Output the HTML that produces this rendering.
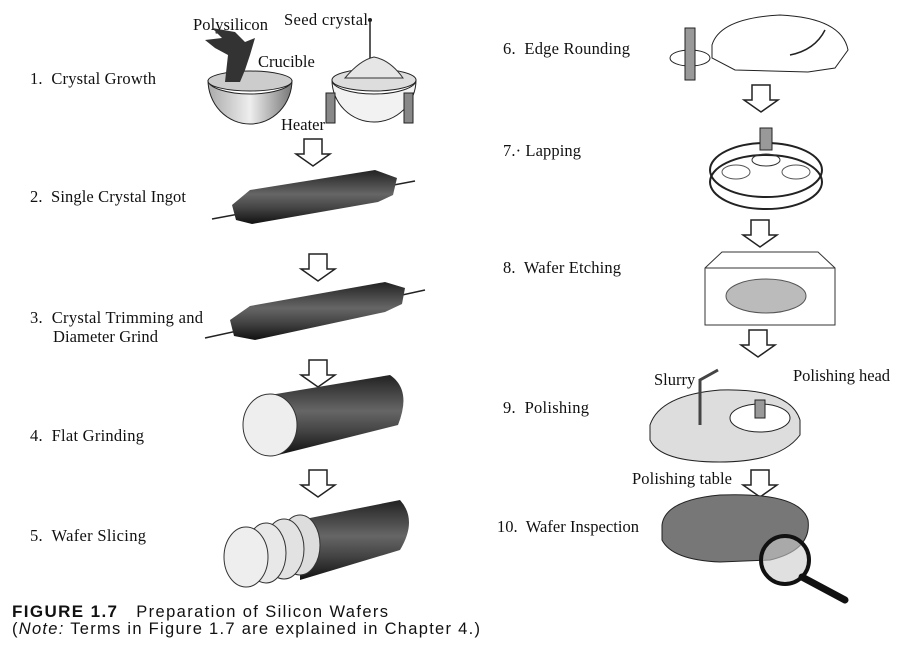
<!DOCTYPE html>
<html><head><meta charset="utf-8"><style>
html,body{margin:0;padding:0;background:#fff}
svg{display:block}
.t{font-family:"Liberation Serif",serif;font-size:16.5px;fill:#111}
.s{font-family:"Liberation Sans",sans-serif;font-size:16.5px;fill:#111}
</style></head><body>
<svg width="906" height="648" viewBox="0 0 906 648" xmlns="http://www.w3.org/2000/svg">
<defs>
<linearGradient id="cyl" x1="0" y1="0" x2="0" y2="1">
<stop offset="0" stop-color="#222"/><stop offset="0.45" stop-color="#666"/><stop offset="0.7" stop-color="#444"/><stop offset="1" stop-color="#111"/></linearGradient>
<linearGradient id="bowl" x1="0" y1="0" x2="1" y2="0">
<stop offset="0" stop-color="#aaa"/><stop offset="0.5" stop-color="#eee"/><stop offset="1" stop-color="#777"/></linearGradient>
<g id="arr"><path d="M-9,0 H9 V15 H17 L0,27 L-17,15 H-9 Z" fill="#fff" stroke="#222" stroke-width="1.5"/></g>
</defs>

<text class="t" x="30" y="84" textLength="126">1.&#160; Crystal Growth</text>
<text class="t" x="30" y="202" textLength="156">2.&#160; Single Crystal Ingot</text>
<text class="t" x="30" y="323" textLength="173">3.&#160; Crystal Trimming and</text>
<text class="t" x="53" y="342" textLength="105">Diameter Grind</text>
<text class="t" x="30" y="441" textLength="114">4.&#160; Flat Grinding</text>
<text class="t" x="30" y="541" textLength="116">5.&#160; Wafer Slicing</text>

<text class="t" x="193" y="30" textLength="75">Polysilicon</text>
<text class="t" x="284" y="25" textLength="84">Seed crystal</text>
<text class="t" x="258" y="67">Crucible</text>
<text class="t" x="281" y="130">Heater</text>

<path d="M208,80 a42,14 0 0 0 84,0 a42,44 0 0 1 -84,0 Z" fill="url(#bowl)" stroke="#222"/>
<ellipse cx="250" cy="81" rx="42" ry="10" fill="#ccc" stroke="#222"/>
<path d="M225,82 L228,55 L215,48 L205,40 L222,38 L212,28 L235,32 L245,42 L255,38 L250,55 L245,70 L240,82 Z" fill="#333"/>
<path d="M332,80 a42,14 0 0 0 84,0 a42,42 0 0 1 -84,0 Z" fill="#f2f2f2" stroke="#222"/>
<ellipse cx="374" cy="80" rx="42" ry="11" fill="#ddd" stroke="#222"/>
<path d="M345,78 Q360,60 374,57 Q390,60 403,78 Z" fill="#e6e6e6" stroke="#333"/>
<line x1="370" y1="22" x2="370" y2="58" stroke="#222" stroke-width="1.5"/>
<circle cx="370" cy="20" r="2" fill="#222"/>
<rect x="326" y="93" width="9" height="30" fill="#888" stroke="#222"/>
<rect x="404" y="93" width="9" height="30" fill="#888" stroke="#222"/>

<use href="#arr" x="313" y="139"/>
<line x1="212" y1="219" x2="415" y2="181" stroke="#222" stroke-width="1.5"/>
<path d="M232,205 L250,190 L375,170 L397,178 L393,195 L378,202 L252,224 L236,220 Z" fill="url(#cyl)"/>
<use href="#arr" x="318" y="254"/>
<line x1="205" y1="338" x2="425" y2="290" stroke="#222" stroke-width="1.5"/>
<path d="M230,320 L250,306 L385,282 L405,288 L402,304 L385,312 L255,340 L234,336 Z" fill="url(#cyl)"/>
<use href="#arr" x="318" y="360"/>
<path d="M270,395 L390,375 Q412,390 398,425 L278,455 Z" fill="url(#cyl)"/>
<ellipse cx="270" cy="425" rx="27" ry="31" fill="#eee" stroke="#333"/>
<use href="#arr" x="318" y="470"/>
<path d="M300,520 L400,500 Q418,520 400,550 L300,580 Z" fill="url(#cyl)"/>
<ellipse cx="300" cy="545" rx="20" ry="30" fill="#ddd" stroke="#333"/>
<ellipse cx="284" cy="549" rx="20" ry="30" fill="#e2e2e2" stroke="#333"/>
<ellipse cx="266" cy="553" rx="20" ry="30" fill="#e8e8e8" stroke="#333"/>
<ellipse cx="246" cy="557" rx="22" ry="30" fill="#eee" stroke="#333"/>

<text class="t" x="503" y="54" textLength="127">6.&#160; Edge Rounding</text>
<text class="t" x="503" y="156" textLength="78">7.&#183; Lapping</text>
<text class="t" x="503" y="273" textLength="118">8.&#160; Wafer Etching</text>
<text class="t" x="503" y="413" textLength="86">9.&#160; Polishing</text>
<text class="t" x="497" y="532" textLength="142">10.&#160; Wafer Inspection</text>
<text class="t" x="654" y="385">Slurry</text>
<text class="t" x="793" y="381" textLength="97">Polishing head</text>
<text class="t" x="632" y="484" textLength="100">Polishing table</text>

<path d="M712,45 Q720,18 780,15 Q842,18 848,50 L835,68 L808,72 L735,70 L712,58 Z" fill="#fff" stroke="#222"/>
<path d="M790,55 Q815,50 825,30" fill="none" stroke="#222" stroke-width="1.5"/>
<ellipse cx="690" cy="58" rx="20" ry="8" fill="#fff" stroke="#222"/>
<rect x="685" y="28" width="10" height="52" fill="#999" stroke="#222"/>
<use href="#arr" x="761" y="85"/>
<ellipse cx="766" cy="170" rx="56" ry="27" fill="#fff" stroke="#222" stroke-width="2"/>
<ellipse cx="766" cy="182" rx="56" ry="27" fill="none" stroke="#222" stroke-width="2"/>
<ellipse cx="766" cy="160" rx="14" ry="6" fill="none" stroke="#333"/>
<ellipse cx="736" cy="172" rx="14" ry="7" fill="none" stroke="#555"/>
<ellipse cx="796" cy="172" rx="14" ry="7" fill="none" stroke="#555"/>
<rect x="760" y="128" width="12" height="22" fill="#999" stroke="#222"/>
<use href="#arr" x="760" y="220"/>
<path d="M705,268 L722,252 L818,252 L835,268 L835,325 L705,325 Z" fill="none" stroke="#333"/>
<line x1="705" y1="268" x2="835" y2="268" stroke="#333"/>
<ellipse cx="766" cy="296" rx="40" ry="17" fill="#bbb" stroke="#555"/>
<use href="#arr" x="758" y="330"/>
<path d="M650,425 Q660,395 720,390 Q790,388 800,420 L800,435 Q780,462 720,462 Q660,462 650,440 Z" fill="#ddd" stroke="#222"/>
<ellipse cx="760" cy="418" rx="30" ry="14" fill="#fff" stroke="#222"/>
<rect x="755" y="400" width="10" height="18" fill="#999" stroke="#222"/>
<path d="M700,425 L700,380 L718,370" fill="none" stroke="#444" stroke-width="3"/>
<use href="#arr" x="760" y="470"/>
<path d="M662,525 Q665,500 720,495 Q800,492 808,520 Q812,550 770,560 L720,562 Q672,560 662,540 Z" fill="#777" stroke="#222"/>
<circle cx="785" cy="560" r="24" fill="#ccc" fill-opacity="0.6" stroke="#111" stroke-width="4"/>
<line x1="802" y1="577" x2="845" y2="600" stroke="#111" stroke-width="7" stroke-linecap="round"/>

<text class="s" x="12" y="617" textLength="376"><tspan font-weight="bold" font-size="17">FIGURE 1.7</tspan>&#160;&#160; Preparation of Silicon Wafers</text>
<text class="s" x="12" y="634" textLength="468">(<tspan font-style="italic">Note:</tspan> Terms in Figure 1.7 are explained in Chapter 4.)</text>
</svg>
</body></html>
